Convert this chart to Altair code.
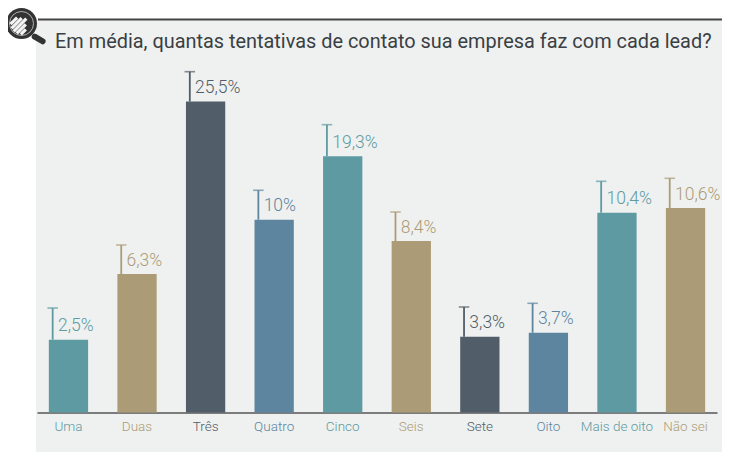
import math
import altair as alt
import pandas as pd

TITLE = "Em média, quantas tentativas de contato sua empresa faz com cada lead?"
categories = ["Uma", "Duas", "Três", "Quatro", "Cinco", "Seis", "Sete", "Oito", "Mais de oito", "Não sei"]
# the labels as printed; the drawn heights do not follow them linearly in the source
labels = ["2,5%", "6,3%", "25,5%", "10%", "19,3%", "8,4%", "3,3%", "3,7%", "10,4%", "10,6%"]
bar_heights = [72.8, 138.5, 311, 192.8, 256.2, 171.5, 75.8, 79.8, 199.8, 204.5]
whisker_tops = [104.5, 167.5, 340.8, 222.2, 287.8, 200.5, 105.5, 109.2, 231.2, 234.2]
teal, tan, dark, blue = "#5e9aa1", "#ab9c77", "#515d68", "#5e85a0"
colors = [teal, tan, dark, blue, teal, tan, dark, blue, teal, tan]
FONT = "Roboto"

df = pd.DataFrame({"cat": categories, "label": labels, "h": bar_heights, "top": whisker_tops})
x = alt.X("cat:N", sort=categories, title=None,
          scale=alt.Scale(domain=categories, range=[1, 681], paddingInner=0.427, paddingOuter=0.1725),
          axis=alt.Axis(labelAngle=0, labelFont=FONT, labelFontSize=13.5, labelFontWeight=300, labelPadding=7, ticks=False,
                        domainColor="#555555", domainWidth=1.5, offset=-39.5, labelOverlap=False,
                        labelColor=alt.expr("{" + ",".join(f"'{c}':'{k}'" for c, k in zip(categories, colors)) + "}[datum.value]")))
yscale = alt.Scale(domain=[0, 392.5], range=[392.5, 0], nice=False)
y = alt.Y("h:Q", title=None, axis=None, scale=yscale)
color = alt.Color("cat:N", legend=None, scale=alt.Scale(domain=categories, range=colors))

base = alt.Chart(df)
bars = base.mark_bar().encode(x=x, y=y, color=color)
stems = base.mark_rule(xOffset=-15.8, strokeWidth=1.8).encode(x=x, y=y, y2="top:Q", color=color)
caps = base.mark_tick(xOffset=-15.8, size=10.5, thickness=1.6, orient="horizontal").encode(
    x=x, y=alt.Y("top:Q", scale=yscale, axis=None, title=None), color=color)
texts = base.mark_text(align="left", baseline="middle", dx=-10.5, dy=-13.3, font=FONT, fontSize=17.5, fontWeight=300).encode(
    x=x, y=y, text="label:N", color=color)

one = alt.Chart(pd.DataFrame({"k": [0]}))
top_line = one.mark_rule(color="#444444", strokeWidth=2).encode(x=alt.value(2), x2=alt.value(686), y=alt.value(-0.5))

# magnifier icon, drawn with custom symbol shapes
ICON_X, ICON_Y = -14.5, 3.5
def at(mark):
    return mark.encode(x=alt.value(ICON_X), y=alt.value(ICON_Y))
handle = at(one.mark_point(shape="M0.55 0.55L0.88 0.74", size=2300, filled=False, stroke="#333333", strokeWidth=6,
                           strokeCap="round", opacity=1))
disc = at(one.mark_point(shape="circle", size=961, filled=True, fill="#333333", opacity=1))
ring = at(one.mark_point(shape="circle", size=576, filled=False, stroke="#cfcfcf", strokeWidth=0.8, opacity=1))
stripe_specs = [(-0.66, 0.1), (-0.33, 0.35), (0.0, 0.62), (0.33, 0.22), (0.66, -0.1)]
paths = []
for d, end in stripe_specs:
    h = math.sqrt(1 - d * d)
    r = 0.707
    x0, y0 = r * d - r * h, r * d + r * h
    x1, y1 = r * d + r * end, r * d - r * end
    paths.append(f"M{x0:.3f} {y0:.3f}L{x1:.3f} {y1:.3f}")
stripes = at(one.mark_point(shape="".join(paths), size=484, filled=False, stroke="#f4f4f4", strokeWidth=3.2, opacity=1))

chart = alt.layer(bars, stems, caps, texts, top_line, handle, disc, ring, stripes).properties(
    width=686, height=432,
    padding={"left": 28, "top": 12, "right": 0, "bottom": 0},
    autosize=alt.AutoSizeParams(type="none"),
    background="white",
    title=alt.TitleParams(TITLE, anchor="start", frame="group", font=FONT, fontSize=19.9, fontWeight="normal",
                          color="#3a3f44", dx=19, dy=60, offset=0, baseline="alphabetic"),
).configure_view(fill="#eff1f0", stroke=None)

chart.save("out.html", embed_options={"renderer": "svg", "actions": False})
